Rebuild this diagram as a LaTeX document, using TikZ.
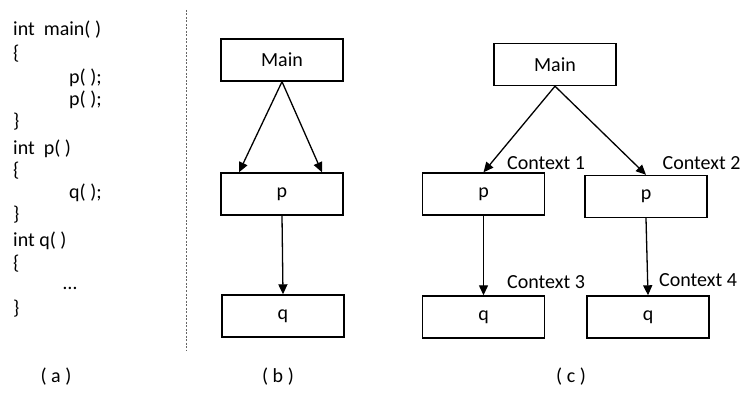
\documentclass[tikz,border=0pt]{standalone}
\usepackage{fontspec}
\setmainfont{Carlito}
\usetikzlibrary{arrows.meta}

\begin{document}
\begin{tikzpicture}[x=1pt, y=-1pt,
  font=\fontsize{20}{23}\selectfont,
  box/.style={draw, line width=1.4pt, minimum width=122pt, minimum height=42pt, inner sep=0pt},
  codeline/.style={anchor=base west, inner sep=0pt},
  ctx/.style={anchor=west, inner sep=0pt},
  sublabel/.style={anchor=base, inner sep=0pt},
  arr/.style={line width=1.3pt, -{Triangle[length=10pt, width=9pt]}},
  sep/.style={draw=black!60, line width=0.9pt, dash pattern=on 2pt off 1.5pt}]
\useasboundingbox (0,0) rectangle (742,406);

% (a) source code
\node[codeline] (c1)  at (13,36)  {int\ \ main( )};
\node[codeline] (c2)  at (13,60)  {\{};
\node[codeline] (c3)  at (69,84)  {p( );};
\node[codeline] (c4)  at (69,106) {p( );};
\node[codeline] (c5)  at (13,128) {\}};
\node[codeline] (c6)  at (13,155) {int\ \ p( )};
\node[codeline] (c7)  at (13,177) {\{};
\node[codeline] (c8)  at (69,199) {q( );};
\node[codeline] (c9)  at (13,221) {\}};
\node[codeline] (c10) at (13,247) {int q( )};
\node[codeline] (c11) at (13,270) {\{};
\node[codeline] (c12) at (63,290) {…};
\node[codeline] (c13) at (13,315) {\}};

% separator
\coordinate (s1) at (186,10);
\coordinate (s2) at (186,350);
\draw[sep] (s1) -- (s2);

% (b) call graph
\node[box] (mainb) at (282,60)  {Main};
\node[box] (pb)    at (282,194) {p};
\node[box] (qb)    at (283,316) {q};
\draw[arr] (mainb.south) -- ([xshift=-43pt]pb.north);
\draw[arr] (mainb.south) -- ([xshift=40pt]pb.north);
\draw[arr] (pb.south) -- (qb.north);

% (c) calling context tree
\node[box] (mainc) at (555,64.5) {Main};
\node[box] (p1)    at (483.5,194) {p};
\node[box] (p2)    at (646,196.5) {p};
\node[box] (q1)    at (483.5,317) {q};
\node[box] (q2)    at (648,317)   {q};
\draw[arr] (mainc.south) -- (p1.north);
\draw[arr] (mainc.south) -- (p2.north);
\draw[arr] (p1.south) -- (q1.north);
\draw[arr] (p2.south) -- (q2.north);

\node[ctx] (k1) at (507,163) {Context 1};
\node[ctx] (k2) at (662.5,163) {Context 2};
\node[ctx] (k3) at (507,282) {Context 3};
\node[ctx] (k4) at (659,280) {Context 4};

% sub-figure labels
\node[sublabel] (la) at (56,382)  {( a )};
\node[sublabel] (lb) at (278,382) {( b )};
\node[sublabel] (lc) at (571,382) {( c )};
\end{tikzpicture}
\end{document}
